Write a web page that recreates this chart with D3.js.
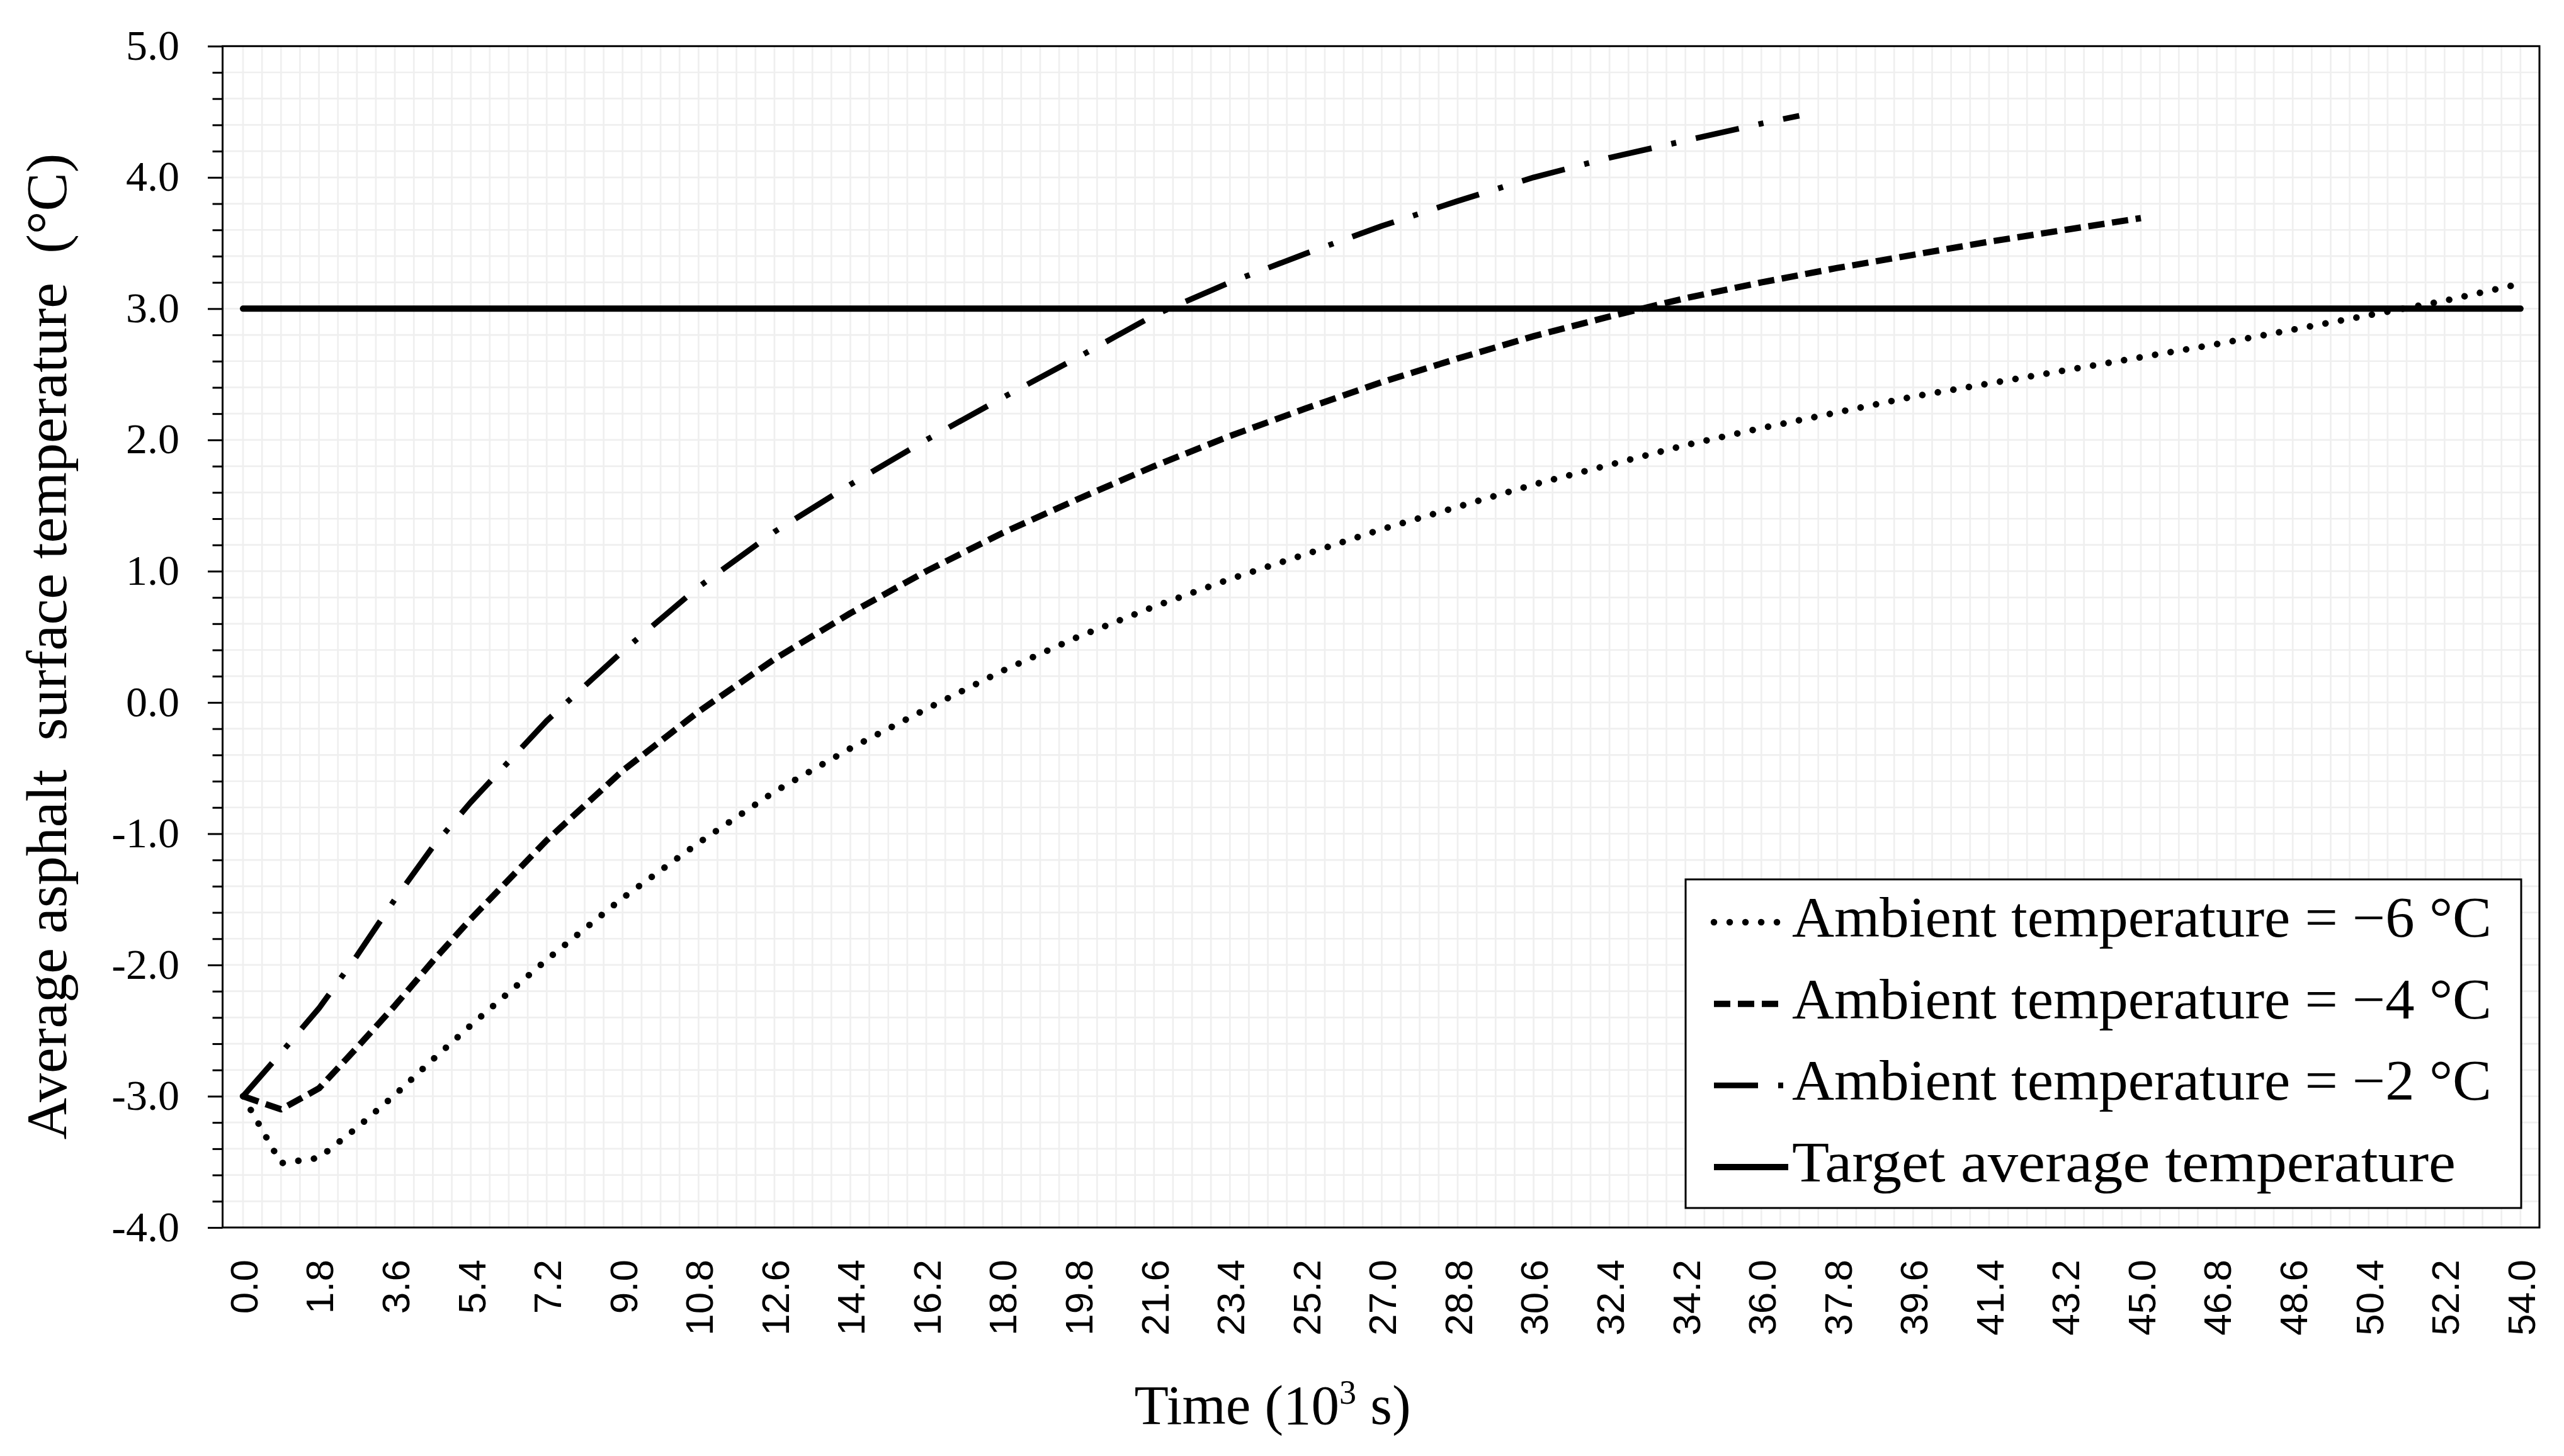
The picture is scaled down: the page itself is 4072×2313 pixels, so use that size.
<!DOCTYPE html>
<html>
<head>
<meta charset="utf-8">
<script src="https://cdn.jsdelivr.net/npm/d3@7/dist/d3.min.js"></script>
<style>
  html, body { margin: 0; padding: 0; background: #ffffff; }
  svg { display: block; }
</style>
</head>
<body>
<svg id="chart" width="4072" height="2313"></svg>
<script>
// ---------------- DATA ----------------
const xTickLabels = ["0.0","1.8","3.6","5.4","7.2","9.0","10.8","12.6","14.4","16.2","18.0","19.8","21.6","23.4","25.2","27.0","28.8","30.6","32.4","34.2","36.0","37.8","39.6","41.4","43.2","45.0","46.8","48.6","50.4","52.2","54.0"];
const yTickLabels = ["-4.0","-3.0","-2.0","-1.0","0.0","1.0","2.0","3.0","4.0","5.0"];

const seriesNames = ["Ambient temperature = \u22126 \u00B0C", "Ambient temperature = \u22124 \u00B0C", "Ambient temperature = \u22122 \u00B0C"];
const targetName = "Target average temperature";

// Ambient -6 °C
const timeM6 = [0, 0.9, 1.8, 2.7, 3.6, 4.5, 5.4, 6.3, 7.2, 9.0, 10.8, 12.6, 14.4, 16.2, 18.0, 19.8, 21.6, 23.4, 25.2, 27.0, 28.8, 30.6, 32.4, 34.2, 36.0, 37.8, 39.6, 41.4, 43.2, 45.0, 46.8, 48.6, 50.4, 52.2, 54.0];
const tempM6 = [-3.00, -3.51, -3.47, -3.24, -2.99, -2.72, -2.46, -2.21, -1.96, -1.49, -1.07, -0.68, -0.35, -0.05, 0.24, 0.50, 0.73, 0.94, 1.13, 1.32, 1.49, 1.66, 1.81, 1.96, 2.09, 2.21, 2.33, 2.43, 2.53, 2.63, 2.73, 2.84, 2.95, 3.06, 3.19];

// Ambient -4 °C
const timeM4 = [0, 0.9, 1.8, 2.7, 3.6, 4.5, 5.4, 7.2, 9.0, 10.8, 12.6, 14.4, 16.2, 18.0, 19.8, 21.6, 23.4, 25.2, 27.0, 28.8, 30.6, 32.4, 34.2, 36.0, 37.8, 39.6, 41.4, 43.2, 45.0];
const tempM4 = [-3.00, -3.10, -2.94, -2.63, -2.31, -1.97, -1.65, -1.05, -0.52, -0.07, 0.33, 0.68, 1.00, 1.29, 1.55, 1.80, 2.03, 2.24, 2.44, 2.62, 2.79, 2.94, 3.08, 3.20, 3.31, 3.41, 3.51, 3.60, 3.69];

// Ambient -2 °C
const timeM2 = [0, 0.9, 1.8, 2.7, 3.6, 4.5, 5.4, 7.2, 9.0, 10.8, 12.6, 14.4, 16.2, 18.0, 19.8, 21.6, 23.4, 25.2, 27.0, 28.8, 30.6, 32.4, 34.2, 36.0, 36.9];
const tempM2 = [-3.00, -2.67, -2.33, -1.93, -1.50, -1.10, -0.76, -0.14, 0.39, 0.88, 1.30, 1.66, 2.00, 2.32, 2.63, 2.95, 3.20, 3.42, 3.63, 3.82, 4.00, 4.15, 4.28, 4.41, 4.47];

// Target
const targetTemp = 3.0;
const targetTime = [0, 54];

// ---------------- LAYOUT ----------------
const W = 4072, H = 2313;
const plot = { left: 353.5, right: 4033, top: 73.3, bottom: 1950 };
const serif = "'Liberation Serif', 'Times New Roman', serif";
const sans = "'Liberation Sans', Arial, sans-serif";

const x = d3.scaleLinear().domain([-0.485, 54.45]).range([plot.left, plot.right]);
const y = d3.scaleLinear().domain([-4, 5]).range([plot.bottom, plot.top]);

const xTickValues = xTickLabels.map(Number);
const yTickValues = yTickLabels.map(Number);

const svg = d3.select("#chart");
svg.append("rect").attr("width", W).attr("height", H).attr("fill", "#ffffff");

// ---------------- GRID ----------------
const hGrid = d3.range(1, 45).map(k => -4 + 0.2 * k);
const vGrid = d3.range(0, 121).map(k => 0.45 * k);
const grid = svg.append("g").attr("class", "grid");
grid.selectAll("line.h").data(hGrid).join("line").attr("class", "h")
  .attr("x1", plot.left).attr("x2", plot.right)
  .attr("y1", d => y(d)).attr("y2", d => y(d))
  .attr("stroke", "#efefef").attr("stroke-width", 2.7);
grid.selectAll("line.v").data(vGrid).join("line").attr("class", "v")
  .attr("x1", d => x(d)).attr("x2", d => x(d))
  .attr("y1", plot.top).attr("y2", plot.bottom)
  .attr("stroke", "#efefef").attr("stroke-width", 2.7);

// ---------------- SERIES ----------------
const styles = [
  { dash: "0.01 25", cap: "round", width: 10.5, legendLen: 118 },
  { dash: "26 12", cap: "butt", width: 10, legendLen: 102 },
  { dash: "70 32 8 32", cap: "butt", width: 9, legendLen: 112 }
];
const seriesData = [
  d3.zip(timeM6, tempM6),
  d3.zip(timeM4, tempM4),
  d3.zip(timeM2, tempM2)
];

const line = d3.line().x(d => x(d[0])).y(d => y(d[1]));

// target line
svg.append("path")
  .datum(targetTime.map(t => [t, targetTemp]))
  .attr("d", line)
  .attr("fill", "none").attr("stroke", "#000").attr("stroke-width", 10)
  .attr("stroke-linecap", "round");

seriesData.forEach((data, i) => {
  svg.append("path")
    .datum(data)
    .attr("d", line)
    .attr("fill", "none")
    .attr("stroke", "#000")
    .attr("stroke-width", styles[i].width)
    .attr("stroke-dasharray", styles[i].dash)
    .attr("stroke-linecap", styles[i].cap)
    .attr("stroke-linejoin", "round");
});

// ---------------- FRAME & AXES ----------------
svg.append("rect")
  .attr("x", plot.left).attr("y", plot.top)
  .attr("width", plot.right - plot.left).attr("height", plot.bottom - plot.top)
  .attr("fill", "none").attr("stroke", "#000").attr("stroke-width", 3);

// minor y ticks
const minorVals = hGrid.filter(v => Math.abs(v - Math.round(v)) > 1e-6);
const gMinor = svg.append("g").attr("transform", `translate(${plot.left},0)`)
  .call(d3.axisLeft(y).tickValues(minorVals).tickSize(16).tickSizeOuter(0).tickFormat(""));
gMinor.select(".domain").remove();
gMinor.selectAll(".tick line").attr("stroke", "#000").attr("stroke-width", 3);

// major y ticks + labels
const gy = svg.append("g").attr("transform", `translate(${plot.left},0)`)
  .call(d3.axisLeft(y).tickValues(yTickValues).tickSize(23.5).tickSizeOuter(0).tickPadding(45)
    .tickFormat((d, i) => yTickLabels[i]));
gy.select(".domain").remove();
gy.selectAll(".tick line").attr("stroke", "#000").attr("stroke-width", 3);
gy.selectAll(".tick text")
  .attr("font-family", serif).attr("font-size", 68).attr("fill", "#000")
  .attr("dy", "0.31em");

// x labels (rotated)
const gx = svg.append("g").attr("transform", `translate(0,${plot.bottom})`)
  .call(d3.axisBottom(x).tickValues(xTickValues).tickSize(0).tickSizeOuter(0)
    .tickFormat((d, i) => xTickLabels[i]));
gx.select(".domain").remove();
gx.selectAll(".tick text")
  .attr("font-family", sans).attr("font-size", 62).attr("fill", "#000")
  .attr("transform", "rotate(-90)")
  .attr("text-anchor", "end")
  .attr("x", -51).attr("y", 0).attr("dy", "0.36em");

// ---------------- AXIS TITLES ----------------
const xt = svg.append("text")
  .attr("x", 2021).attr("y", 2262)
  .attr("text-anchor", "middle")
  .attr("font-family", serif).attr("font-size", 89).attr("fill", "#000");
xt.append("tspan").text("Time (10");
xt.append("tspan").attr("font-size", 54).attr("dy", -32).text("3");
xt.append("tspan").attr("dy", 32).style("white-space", "pre").text(" s)");

svg.append("text")
  .attr("transform", `translate(105,1027) rotate(-90)`)
  .attr("text-anchor", "middle")
  .attr("font-family", serif).attr("font-size", 90).attr("fill", "#000")
  .style("white-space", "pre")
  .attr("textLength", 1567).attr("lengthAdjust", "spacingAndGlyphs")
  .text("Average asphalt  surface temperature  (\u00B0C)");

// ---------------- LEGEND ----------------
const legend = svg.append("g").attr("class", "legend");
legend.append("rect")
  .attr("x", 2677).attr("y", 1397).attr("width", 1327).attr("height", 522)
  .attr("fill", "#fff").attr("stroke", "#000").attr("stroke-width", 3);

const legendItems = [
  { name: seriesNames[0], style: styles[0], tl: 1111 },
  { name: seriesNames[1], style: styles[1], tl: 1111 },
  { name: seriesNames[2], style: styles[2], tl: 1111 },
  { name: targetName, style: { dash: null, cap: "butt", width: 10, legendLen: 118 }, tl: 1054 }
];
const rowBase = d3.scaleLinear().domain([0, 3]).range([1488, 1877]);
legendItems.forEach((it, i) => {
  const by = rowBase(i);
  const l = legend.append("line")
    .attr("x1", 2722).attr("x2", 2722 + it.style.legendLen)
    .attr("y1", by - 23).attr("y2", by - 23)
    .attr("stroke", "#000").attr("stroke-width", it.style.width)
    .attr("stroke-linecap", it.style.cap);
  if (it.style.dash) l.attr("stroke-dasharray", it.style.dash);
  legend.append("text")
    .attr("x", 2846).attr("y", by)
    .attr("font-family", serif).attr("font-size", 90).attr("fill", "#000")
    .attr("textLength", it.tl).attr("lengthAdjust", "spacingAndGlyphs")
    .text(it.name);
});
</script>
</body>
</html>
